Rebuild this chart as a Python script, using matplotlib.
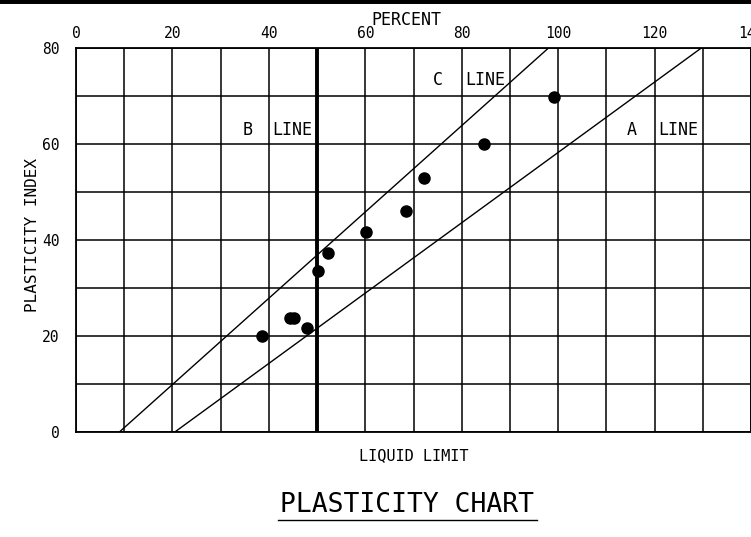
import matplotlib
matplotlib.use("Agg")
import matplotlib.pyplot as plt
from matplotlib.lines import Line2D

plt.rcParams["font.family"] = "DejaVu Sans Mono"

# soil samples: liquid limit vs plasticity index (percent)
liquid_limit = [38.5, 44.3, 45.3, 47.9, 50.1, 52.2, 60.1, 68.4, 72.1, 84.6, 99.2]
plasticity_index = [20.0, 23.7, 23.7, 21.6, 33.6, 37.2, 41.6, 46.1, 53.0, 60.0, 69.7]

# reference lines (end points in liquid limit / plasticity index)
a_line_ll = [20.5, 129.7]
a_line_pi = [0, 80]
c_line_ll = [9.0, 98.0]
c_line_pi = [0, 80]
b_line_ll = 50

x_ticks = list(range(0, 141, 10))
y_ticks = list(range(0, 81, 10))
x_labels = [str(v) if v % 20 == 0 else "" for v in x_ticks]
y_labels = [str(v) if v % 20 == 0 else "" for v in y_ticks]

fig = plt.figure(figsize=(7.51, 5.37), dpi=100)
ax = fig.add_axes([76 / 751, 1 - 432 / 537, 675 / 751, 384 / 537])

ax.set_xlim(0, 140)
ax.set_ylim(0, 80)
ax.set_xticks(x_ticks)
ax.set_xticklabels(x_labels)
ax.set_yticks(y_ticks)
ax.set_yticklabels(y_labels)
ax.xaxis.tick_top()
ax.tick_params(axis="both", length=0, labelsize=10.5)
ax.tick_params(axis="x", pad=5)
ax.tick_params(axis="y", pad=12)
ax.grid(True, color="black", linewidth=1.1)
ax.set_axisbelow(True)
for s in ax.spines.values():
    s.set_linewidth(1.3)

ax.axvline(b_line_ll, color="black", linewidth=2.8)
ax.plot(a_line_ll, a_line_pi, color="black", linewidth=1.0)
ax.plot(c_line_ll, c_line_pi, color="black", linewidth=1.0)
ax.plot(liquid_limit, plasticity_index, "o", color="black", markersize=8)

# line labels, split around the grid line
lbl = dict(fontsize=12, va="center")
ax.text(35.5, 62.9, "B", ha="center", **lbl)
ax.text(40.8, 62.9, "LINE", ha="left", **lbl)
ax.text(75, 73.3, "C", ha="center", **lbl)
ax.text(80.8, 73.3, "LINE", ha="left", **lbl)
ax.text(115.3, 62.9, "A", ha="center", **lbl)
ax.text(120.8, 62.9, "LINE", ha="left", **lbl)

fig.text(33 / 751, 1 - 235 / 537, "PLASTICITY INDEX", rotation=90,
         ha="center", va="center", fontsize=11.5)
fig.text(406 / 751, 1 - 20 / 537, "PERCENT", ha="center", va="center", fontsize=12)
fig.text(414 / 751, 1 - 456 / 537, "LIQUID LIMIT", ha="center", va="center", fontsize=11)
fig.text(407 / 751, 1 - 505 / 537, "PLASTICITY CHART", ha="center", va="center",
         fontsize=19)
fig.add_artist(Line2D([278 / 751, 537 / 751], [1 - 520 / 537, 1 - 520 / 537],
                      color="black", linewidth=1.0))

# dark band across the top edge
fig.add_artist(Line2D([0, 1], [1, 1], color="black", linewidth=5))

fig.savefig("out.png", dpi=100)
